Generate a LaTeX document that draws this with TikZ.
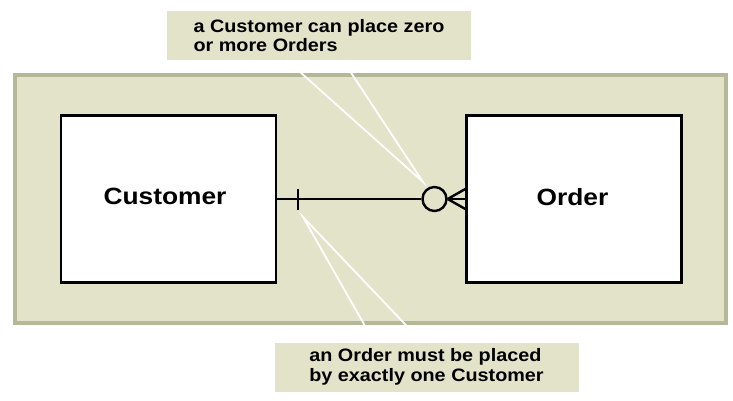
\documentclass[tikz,border=0pt]{standalone}
\usepackage{fontspec}
\setmainfont{Liberation Sans}
\newfontfamily\boxfont{Liberation Sans}[FakeStretch=1.12]
\newfontfamily\calfont{Liberation Sans}[FakeStretch=1.1]
\usetikzlibrary{calc}
\definecolor{panelfill}{RGB}{227,227,201}
\definecolor{panelline}{RGB}{182,182,152}
\tikzset{
  entity/.style={draw=black, fill=white, line width=2.4pt, minimum width=215pt, minimum height=167pt, inner sep=0pt,
    font=\boxfont\bfseries\fontsize{23.5}{28}\selectfont},
  callout/.style={fill=panelfill, inner sep=0pt, minimum width=304pt, minimum height=49pt,
    align=left, font=\calfont\bfseries\fontsize{18}{19.5}\selectfont},
  pointer/.style={draw=white, line width=1.8pt},
  rel/.style={draw=black, line width=2.4pt},
}
\begin{document}
\begin{tikzpicture}[x=1pt,y=-1pt]
\useasboundingbox (0,0) rectangle (733,401);
% panel
\draw[fill=panelfill, draw=panelline, line width=4pt] (15,75) rectangle (726,323);
% callouts
\node[callout] (topcall) at (319,35.5) {\raisebox{-2pt}{a Customer can place zero}\\\raisebox{-2pt}{or more Orders}};
\node[callout] (botcall) at (426.5,367) {\raisebox{-1.5pt}{an Order must be placed}\\\raisebox{-1.5pt}{by exactly one Customer}};
\coordinate (tipA) at (423,182);
\coordinate (tipB) at (303,217);
\draw[pointer] ($(topcall.south west)+(120,0)$) -- (tipA) -- ($(topcall.south west)+(176,0)$);
\draw[pointer] ($(botcall.north west)+(100,0)$) -- (tipB) -- ($(botcall.north west)+(148,0)$);
% entities
\node[entity] (cust) at (168.5,199) {\raisebox{4.5pt}{Customer}\hspace*{7pt}};
\node[entity] (order) at (574,199) {\raisebox{4pt}{Order}\hspace*{3pt}};
% relationship
\node[circle, draw=black, line width=2.4pt, minimum size=24pt, inner sep=0pt] (circ) at (434.5,199) {};
\draw[rel] (cust.east) -- (circ.west);
\draw[rel] ($(cust.east)+(21,-10.5)$) -- ++(0,21);
\draw[rel] (circ.east) -- ($(order.west)+(0,-10)$);
\draw[rel] (circ.east) -- (order.west);
\draw[rel] (circ.east) -- ($(order.west)+(0,10)$);
\end{tikzpicture}
\end{document}
